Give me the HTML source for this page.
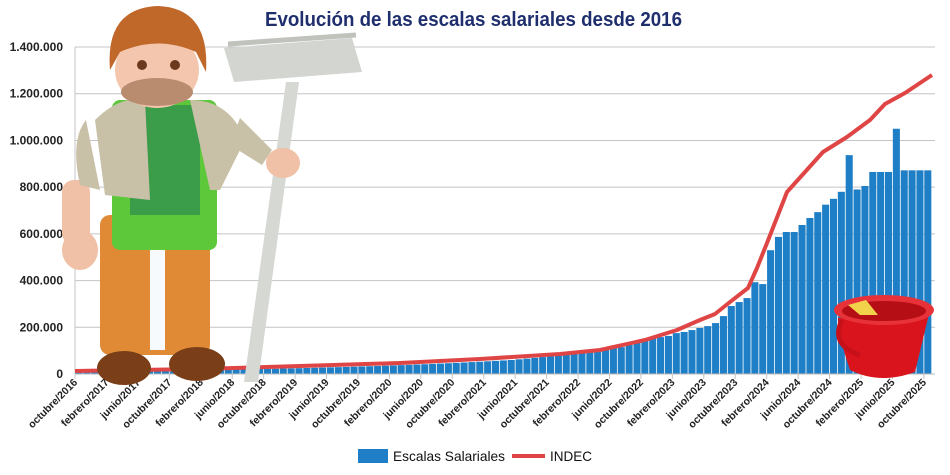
<!DOCTYPE html>
<html><head><meta charset="utf-8"><style>
html,body{margin:0;padding:0;background:#fff;width:950px;height:475px;overflow:hidden}
svg{display:block}
text{font-family:"Liberation Sans",sans-serif}
</style></head><body>
<svg id="s" width="950" height="475" viewBox="0 0 950 475" xmlns="http://www.w3.org/2000/svg">
<text x="265" y="26" textLength="417" lengthAdjust="spacingAndGlyphs" font-size="20" font-weight="bold" fill="#1f2f6e">Evolución de las escalas salariales desde 2016</text>
<g id="grid" stroke="#c4c4c4" stroke-width="1"></g>
<g id="ylab" font-size="12" font-weight="bold" fill="#222" text-anchor="end"></g>
<g id="bars" fill="#1f7fc6"></g>
<polyline id="line" fill="none" stroke="#e04545" stroke-width="4" stroke-linejoin="round"/>
<g id="xlab" font-size="10.5" font-weight="bold" fill="#222"></g>
<line x1="75" y1="374" x2="935" y2="374" stroke="#bbb"/>
<!-- legend -->
<rect x="358" y="449" width="30" height="14" fill="#1f7fc6"/>
<text x="393" y="461" font-size="14" textLength="112" lengthAdjust="spacingAndGlyphs" fill="#111">Escalas Salariales</text>
<line x1="512" y1="456" x2="545" y2="456" stroke="#e04545" stroke-width="4"/>
<text x="550" y="461" font-size="14" textLength="42" lengthAdjust="spacingAndGlyphs" fill="#111">INDEC</text>
<!-- figure -->
<g>
<polygon points="286,82 299,82 258,382 244,382" fill="#d6d8d4"/>
<path d="M224,48 L352,38 L362,72 L234,82 Z" fill="#d3d6d0"/>
<path d="M228,44 L356,35" stroke="#c0c2bc" stroke-width="5"/>
<rect x="100" y="215" width="110" height="140" rx="10" fill="#e08a35"/>
<rect x="150" y="225" width="15" height="125" fill="#f7fafc"/>
<ellipse cx="124" cy="368" rx="27" ry="17" fill="#7a3f18"/>
<ellipse cx="197" cy="364" rx="28" ry="17" fill="#7a3f18"/>
<rect x="112" y="100" width="105" height="150" rx="8" fill="#5cc83a"/>
<rect x="130" y="105" width="70" height="110" fill="#3b9c4a"/>
<path d="M95,120 Q120,95 145,100 L150,200 L105,195 Z" fill="#c9c0a8"/>
<path d="M190,100 Q230,100 245,140 L220,190 L210,190 Z" fill="#c9c0a8"/>
<path d="M240,118 L272,150 L262,165 L230,145 Z" fill="#c9c0a8"/>
<rect x="62" y="180" width="28" height="65" rx="12" fill="#f0c1a6"/>
<ellipse cx="80" cy="250" rx="18" ry="20" fill="#f0c1a6"/>
<path d="M86,120 Q70,140 80,185 L100,190 Z" fill="#c9c0a8"/>
<ellipse cx="283" cy="163" rx="17" ry="15" fill="#f0c1a6"/>
<ellipse cx="157" cy="70" rx="42" ry="38" fill="#f4c6ad"/>
<ellipse cx="157" cy="92" rx="36" ry="14" fill="#b98c70"/>
<path d="M110,70 Q105,8 158,6 Q210,8 206,72 L196,52 Q158,35 120,52 Z" fill="#c0682a"/>
<circle cx="142" cy="65" r="5" fill="#6b3a1e"/><circle cx="175" cy="65" r="5" fill="#6b3a1e"/>
</g>
<!-- bucket -->
<g>
<path d="M838,318 Q838,335 850,370 Q880,385 915,372 L930,310 Z" fill="#d9141c"/>
<ellipse cx="884" cy="310" rx="50" ry="15" fill="#e8323a"/>
<ellipse cx="884" cy="311" rx="42" ry="10" fill="#b50e14"/>
<path d="M848,305 L866,300 L878,315 L860,315 Z" fill="#f2d24a"/>
<path d="M842,320 Q830,345 860,355" stroke="#c8101a" stroke-width="5" fill="none"/>
</g>
</svg>
<script>
const NS="http://www.w3.org/2000/svg";
function el(t,a,p){const e=document.createElementNS(NS,t);for(const k in a)e.setAttribute(k,a[k]);document.getElementById(p).appendChild(e);return e;}
const y0=374,k=327/1400000;
const labs=["0","200.000","400.000","600.000","800.000","1.000.000","1.200.000","1.400.000"];
for(let i=0;i<8;i++){const y=y0-i*46.71;if(i>0)el("line",{x1:75,y1:y,x2:935,y2:y},"grid");const t=el("text",{x:63,y:y+4},"ylab");t.textContent=labs[i];}
el("line",{x1:75,y1:47,x2:75,y2:374},"grid");
const pts=[[0,14000],[24,22000],[41,38000],[55,60000],[68,111000],[69,115000],[70,124000],[71,137000],[72,145000],[73,154000],[74,158000],[75,163000],[76,175000],[77,180000],[78,188000],[79,197000],[80,205000],[81,218000],[82,248000],[83,291000],[84,308000],[85,325000],[86,393000],[87,385000],[88,530000],[89,587000],[90,608000],[91,608000],[92,638000],[93,668000],[94,693000],[95,725000],[96,750000],[97,780000],[98,937000],[99,790000],[100,805000],[101,865000],[102,865000],[103,865000],[104,1050000],[105,872000],[106,872000],[107,872000],[108,872000]];
function interp(i){for(let j=0;j<pts.length-1;j++){const a=pts[j],b=pts[j+1];if(i>=a[0]&&i<=b[0]){const t=(i-a[0])/(b[0]-a[0]);return a[1]*Math.pow(b[1]/a[1],t);}}return pts[pts.length-1][1];}
const w=7.86;
for(let i=0;i<109;i++){const v=interp(i);const h=v*k;el("rect",{x:(75+i*w+0.4).toFixed(2),y:(y0-h).toFixed(2),width:(w-0.8).toFixed(2),height:h.toFixed(2)},"bars");}
const lp=[[75,371],[200,369],[300,366],[400,363],[480,359],[560,354],[600,350],[645,340],[677,330],[700,320],[715,314],[730,302],[748,288],[757,268],[767,243],[787,192],[805,172],[823,152],[847,137],[870,120],[885,104],[905,93],[932,75]];
document.getElementById("line").setAttribute("points",lp.map(p=>p.join(",")).join(" "));
const mon=["octubre","febrero","junio"];
for(let i=0;i<28;i++){const yr=2016+Math.floor((i+2)/3);const m=mon[i%3];const x=75+i*31.44;
el("line",{x1:x,y1:374,x2:x,y2:379},"grid");
const t=el("text",{x:x+3,y:383,"text-anchor":"end",transform:`rotate(-45 ${x+3} 383)`},"xlab");t.textContent=m+"/"+yr;}
</script>
</body></html>
